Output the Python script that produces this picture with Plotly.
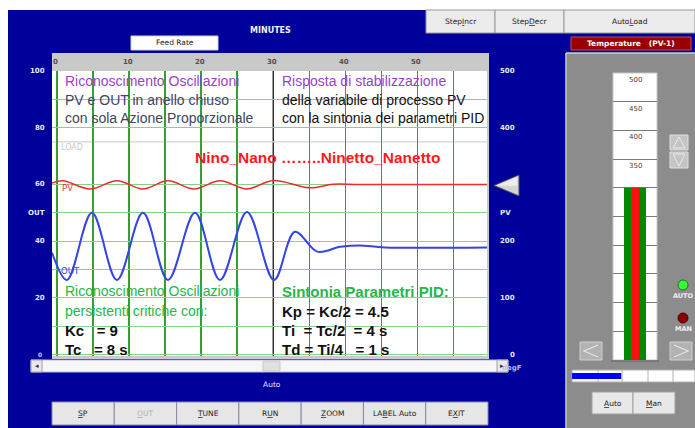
import plotly.graph_objects as go

W, H = 695, 428
def X(p): return p / W
def Y(p): return 1 - p / H

# ---------------- data ----------------
time_out = [-0.7, 1.37, 4.84, 8.31, 11.92, 15.39, 19.14, 22.6, 26.35, 30.1, 33.0, 36.1, 39.3, 42.0, 45.5, 59.65]
out_pct  = [36.0, 26.3, 50.0, 26.3, 50.0, 26.3, 50.0, 26.3, 50.3, 26.3, 43.3, 36.3, 38.0, 38.5, 37.8, 37.8]
time_pv  = [-0.7, 0.82, 4.6, 8.31, 11.9, 15.39, 19.0, 22.6, 26.35, 30.0, 35.1, 38.3, 42.0, 59.65]
pv_pct   = [60.5, 61.3, 58.4, 61.3, 58.4, 61.3, 58.4, 61.3, 58.4, 61.4, 58.8, 60.1, 60.0, 60.0]
load_level = 75
minute_labels = [10, 20, 30, 40, 50]
left_labels = [100, 80, 60, 40, 20]
right_labels = [500, 400, 200, 100, 0]
pv_span = 500
thermo_labels = [500, 450, 400, 350]
pv_temp = [300]
out_bar = [40]
hgrid = [0, 10, 20, 30, 40, 50, 60, 80, 90, 100]

BLUE = "#00009a"
UI = "DejaVu Sans"
TX = "Liberation Sans"

fig = go.Figure()

# main chart traces
fig.add_trace(go.Scatter(x=time_out, y=out_pct, mode="lines", line=dict(color="#3344e8", width=2, shape="spline"),
                         xaxis="x", yaxis="y", hoverinfo="skip"))
fig.add_trace(go.Scatter(x=time_pv, y=pv_pct, mode="lines", line=dict(color="#ee2a2a", width=1.5, shape="spline"),
                         xaxis="x", yaxis="y", hoverinfo="skip"))

# thermometer (PV-1) bar
fig.add_trace(go.Bar(x=[0], y=pv_temp, width=0.5, marker=dict(color="#008a00", line=dict(width=0)),
                     xaxis="x2", yaxis="y2", hoverinfo="skip"))
fig.add_trace(go.Bar(x=[0], y=pv_temp, width=0.18, marker=dict(color="#ff1010", line=dict(width=0)),
                     xaxis="x2", yaxis="y2", hoverinfo="skip"))
# output bar
fig.add_trace(go.Bar(x=out_bar, y=[0], orientation="h", width=0.5, marker=dict(color="#0000ff", line=dict(width=0)),
                     xaxis="x3", yaxis="y3", hoverinfo="skip"))

shapes = []
def rect(x0, y0, x1, y1, fill, line=None, lw=1, layer="below"):
    shapes.append(dict(type="rect", xref="paper", yref="paper", x0=X(x0), x1=X(x1), y0=Y(y1), y1=Y(y0),
                       fillcolor=fill, line=dict(color=line if line else fill, width=lw if line else 0), layer=layer))
def pline(x0, y0, x1, y1, color, w=1, layer="below"):
    shapes.append(dict(type="line", xref="paper", yref="paper", x0=X(x0), x1=X(x1), y0=Y(y0), y1=Y(y1),
                       line=dict(color=color, width=w), layer=layer))
def path(pts, fill, line, w=1, layer="below", closed=True):
    d = "M " + " L ".join(f"{X(a):.5f},{Y(b):.5f}" for a, b in pts) + (" Z" if closed else "")
    shapes.append(dict(type="path", xref="paper", yref="paper", path=d, fillcolor=fill,
                       line=dict(color=line, width=w), layer=layer))

# background
rect(8, 10, 695, 428, BLUE)
# top-right buttons
for (a, b) in [(426, 495), (495, 564), (564, 695)]:
    rect(a, 10, b, 33, "#ebebeb", "#9a9a9a", 1)
# temperature label box
rect(571, 37, 691, 50, "#9a0000", "#c05050", 1)
# grey right panel
rect(566, 53, 695, 428, "#8c8c8c")
pline(566, 53, 566, 428, "#cfcfcf", 1.5)
pline(566, 53, 695, 53, "#cfcfcf", 1.5)
# plot frame
rect(52, 53, 489, 358, "#c9c9c9")
rect(52, 71, 487, 356, "#ffffff")
pline(52, 358, 489, 358, "#c8c8e8", 2)
# feed rate box
rect(131, 36, 218, 50, "#ffffff", "#d0d0d0", 1)
# scrollbar
rect(31, 360, 508, 372, "#f6f6f6", "#b8b8d8", 1)
rect(31, 360, 42, 372, "#e8e8e8", "#a0a0a0", 1)
rect(497, 360, 508, 372, "#e8e8e8", "#a0a0a0", 1)
rect(263, 361, 280, 371, "#e0e0e0", "#c8c8c8", 1)
# bottom buttons
bw = (488 - 52) / 7
for i in range(7):
    rect(52 + i * bw, 402, 52 + (i + 1) * bw, 425, "#e6e6e6", "#8a8aa8", 1)
# thermometer column
rect(613, 73, 657, 360, "#ffffff", "#c8c8c8", 1)
pline(611, 361, 659, 361, "#6e6e6e", 1.5)
# up/down buttons
rect(670, 135, 688, 150, "#c4c4c4", "#e0e0e0", 1)
rect(670, 152, 688, 168, "#c4c4c4", "#e0e0e0", 1)
path([(673, 148), (679, 137), (685, 148)], "rgba(0,0,0,0)", "#ececec", 1)
path([(673, 154), (679, 166), (685, 154)], "rgba(0,0,0,0)", "#ececec", 1)
# LEDs
shapes.append(dict(type="circle", xref="paper", yref="paper", x0=X(678), x1=X(688), y0=Y(290), y1=Y(280),
                   fillcolor="#33ff33", line=dict(color="#2a6a2a", width=1), layer="below"))
shapes.append(dict(type="circle", xref="paper", yref="paper", x0=X(678), x1=X(688), y0=Y(323), y1=Y(313),
                   fillcolor="#8a0000", line=dict(color="#500000", width=1), layer="below"))
# left/right arrow buttons
rect(580, 342, 602, 360, "#b2b2b2", "#d0d0d0", 1)
rect(670, 342, 692, 360, "#b2b2b2", "#d0d0d0", 1)
path([(598, 345), (584, 351), (598, 357)], "rgba(0,0,0,0)", "#e4e4e4", 1.2, closed=False)
path([(674, 345), (688, 351), (674, 357)], "rgba(0,0,0,0)", "#e4e4e4", 1.2, closed=False)
# output bar frame
rect(572, 370, 695, 382, "#ffffff", "#b0b0b0", 1)
for xc in [598, 622, 648, 673]:
    pline(xc, 370, xc, 382, "#b0b0b0", 1)
# Auto / Man buttons
rect(592, 392, 633, 414, "#e8e8e8", "#a0a0a0", 1)
rect(633, 392, 675, 414, "#e8e8e8", "#a0a0a0", 1)
# PV pointer triangle
path([(494, 185.5), (519, 175), (519, 196)], "#d4d4d4", "#505050", 1)
path([(497, 185.5), (517, 177), (517, 185.5)], "#ececec", "#ececec", 0.5)

# data-referenced marks in main plot
shapes.append(dict(type="line", xref="x", yref="y", x0=30, x1=30, y0=-0.5, y1=100,
                   line=dict(color="#303030", width=1.5), layer="below"))
shapes.append(dict(type="line", xref="x", yref="y", x0=-0.7, x1=59.65, y0=load_level, y1=load_level,
                   line=dict(color="#d4d4d4", width=1.2), layer="below"))

ann = []
def txt(x, y, s, size=8, color="white", xa="left", ya="middle", fam=UI, weight="bold", xref="paper", yref="paper", xshift=0, yshift=0):
    ann.append(dict(x=x if xref != "paper" else X(x), y=y if yref != "paper" else Y(y), xref=xref, yref=yref,
                    text=s, showarrow=False, xanchor=xa, yanchor=ya, xshift=xshift, yshift=yshift,
                    font=dict(family=fam, size=size, color=color, weight=weight)))

# headers
txt(270, 31, "MINUTES", 8, "#f0f0ff", "center")
txt(174.5, 43, "Feed Rate", 7.5, "#202020", "center", weight="normal")
txt(272, 384, "Auto", 7.5, "#e8e8ff", "center", weight="normal")
txt(512, 368, "degF", 7, "#b8b8f0", "center")
for lab, xc in zip(["Step<u>I</u>ncr", "Step<u>D</u>ecr", "Auto<u>L</u>oad"], [460.5, 529.5, 629.5]):
    txt(xc, 22, lab, 7.5, "#202020", "center", weight="normal")
txt(631, 43.5, "Temperature   (PV-1)", 7.5, "#ffffff", "center")
# bottom buttons
blabs = ["<u>S</u>P", "<u>O</u>UT", "<u>T</u>UNE", "R<u>U</u>N", "<u>Z</u>OOM", "LA<u>B</u>EL Auto", "E<u>X</u>IT"]
for i, lab in enumerate(blabs):
    txt(52 + (i + 0.5) * bw, 413.5, lab, 7.5, "#b0b0b0" if i == 1 else "#202020", "center", weight="normal")
txt(612.5, 403, "<u>A</u>uto", 7.5, "#202020", "center", weight="normal")
txt(654, 403, "<u>M</u>an", 7.5, "#202020", "center", weight="normal")
txt(683, 296, "AUTO", 6.5, "#f0f0f0", "center")
txt(683, 329, "MAN", 6.5, "#f0f0f0", "center")
txt(36.5, 366, "◂", 7, "#303030", "center", weight="normal")
txt(502.5, 366, "▸", 7, "#303030", "center", weight="normal")

# axis labels
for v in left_labels:
    txt(47, v, str(v), 7, "#e8e8ff", "right", yref="y", xref="paper")
txt(47, 50, "OUT", 7, "#e8e8ff", "right", yref="y")
txt(44, 0, "0", 6, "#c8c8f0", "right", yref="y")
for v in right_labels:
    txt(517, v * 100 / pv_span, str(v), 7, "#e8e8ff", "right", yref="y")
txt(505, 50, "PV", 7, "#e8e8ff", "center", yref="y")
for v in minute_labels:
    txt(v, 62, str(v), 7, "#505050", "center", xref="x", xshift=-1)
txt(0, 62, "0", 7, "#505050", "center", xref="x", xshift=-2)
# thermometer labels
for v in thermo_labels:
    txt(0, v, str(v), 7, "#404040", "center", "top", xref="x2", yref="y2", weight="normal", yshift=-1)

# small trace labels
txt(59, 147, "LOAD", 8, "#c8c8c8", weight="normal")
txt(60, 188, "PV", 8.5, "#ee3333", weight="normal")
txt(59, 270.5, "OUT", 8.5, "#3344e8", weight="normal")

# chart annotations text
PURP = "#9a3fcc"; SLATE = "#3c4760"; GRN = "#27b64a"
txt(63, 81, "Riconoscimento Oscillazioni", 14, PURP, fam=TX, weight="normal")
txt(63, 100, "PV e OUT in anello chiuso", 14, SLATE, fam=TX, weight="normal")
txt(63, 118.5, "con sola Azione Proporzionale", 14, SLATE, fam=TX, weight="normal")
txt(280, 81, "Risposta di stabilizzazione", 14, PURP, fam=TX, weight="normal")
txt(280, 100, "della variabile di processo PV", 14, "#111111", fam=TX, weight="normal")
txt(280, 118.5, "con la sintonia dei parametri PID", 14, "#111111", fam=TX, weight="normal")
txt(193, 157, "Nino_Nano ……..Ninetto_Nanetto", 15.5, "#ff1a1a", fam=TX)
txt(63, 291, "Riconoscimento Oscillazioni", 14, GRN, fam=TX, weight="normal")
txt(63, 311, "persistenti critiche con:", 14, GRN, fam=TX, weight="normal")
txt(63, 330, "Kc\u00a0\u00a0\u00a0= 9", 15, "#111111", fam=TX)
txt(63, 349, "Tc\u00a0\u00a0\u00a0= 8 s", 15, "#111111", fam=TX)
txt(280, 291, "Sintonia Parametri PID:", 15, GRN, fam=TX)
txt(280, 311, "Kp = Kc/2 = 4.5", 15, "#111111", fam=TX)
txt(280, 330, "Ti\u00a0\u00a0= Tc/2\u00a0\u00a0= 4 s", 15, "#111111", fam=TX)
txt(280, 349, "Td = Ti/4\u00a0\u00a0\u00a0= 1 s", 15, "#111111", fam=TX)

vgrid = [t for t in range(0, 60, 5) if t != 30]
fig.update_layout(
    width=W, height=H, margin=dict(l=0, r=0, t=0, b=0),
    paper_bgcolor="#ffffff", plot_bgcolor="rgba(0,0,0,0)", showlegend=False,
    barmode="overlay",
    xaxis=dict(domain=[X(52), X(487)], range=[-0.7, 59.65], tickmode="array", tickvals=vgrid,
               showgrid=True, gridcolor="#30a230", gridwidth=1.5, showticklabels=False, zeroline=False,
               showline=False, ticks="", fixedrange=True),
    yaxis=dict(domain=[Y(356), Y(71)], range=[-0.5, 100], tickmode="array", tickvals=hgrid,
               showgrid=True, gridcolor="#86d286", gridwidth=1, showticklabels=False, zeroline=False,
               showline=False, ticks="", fixedrange=True),
    xaxis2=dict(domain=[X(613), X(657)], range=[-0.5, 0.5], visible=False, anchor="y2"),
    yaxis2=dict(domain=[Y(360), Y(73)], range=[0, 500], tickmode="linear", tick0=0, dtick=50,
                showgrid=True, gridcolor="#7a7a7a", gridwidth=1.2, showticklabels=False, zeroline=False,
                ticks="", anchor="x2"),
    xaxis3=dict(domain=[X(572), X(695)], range=[0, 100], visible=False, anchor="y3"),
    yaxis3=dict(domain=[Y(382), Y(370)], range=[-0.5, 0.5], visible=False, anchor="x3"),
    shapes=shapes, annotations=ann,
)

fig.write_html("out.html", config={"displayModeBar": False, "staticPlot": True},
               post_script="document.body.style.margin='0';document.body.style.overflow='hidden';")
